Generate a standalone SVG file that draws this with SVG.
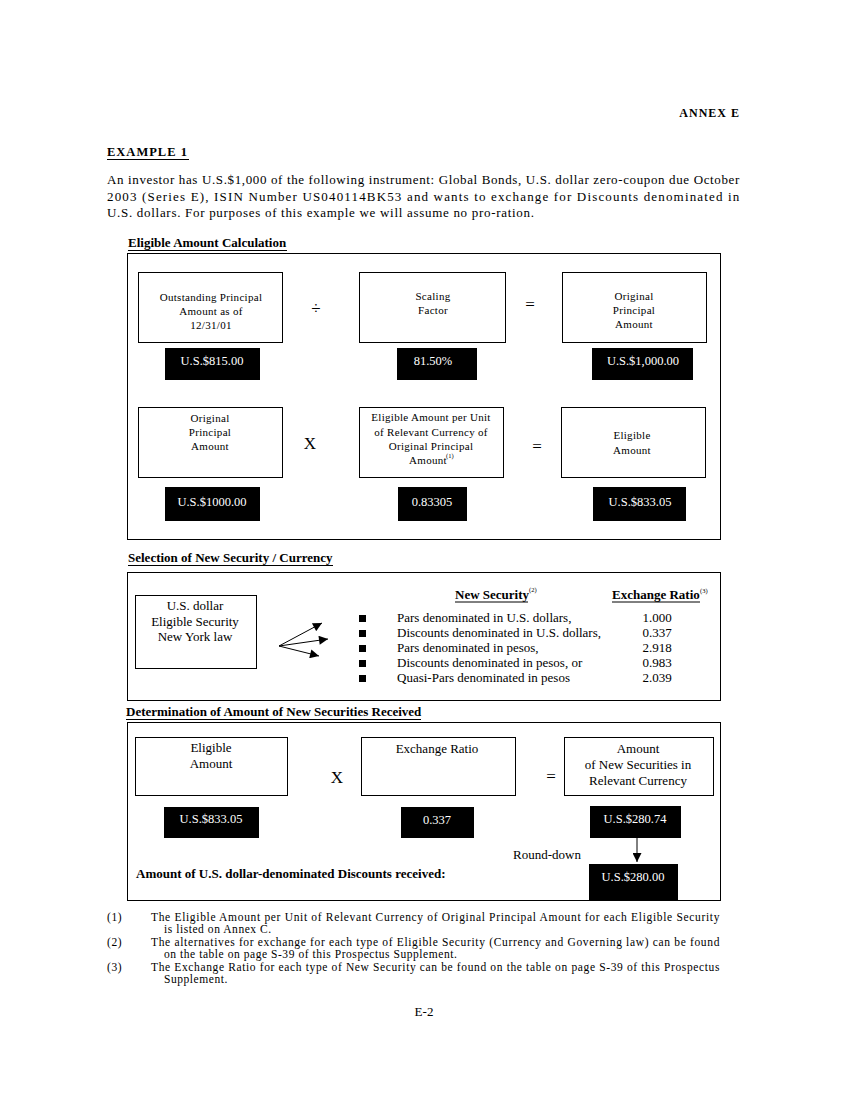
<svg xmlns="http://www.w3.org/2000/svg" width="850" height="1100" viewBox="0 0 850 1100">
<style>
text{font-family:"Liberation Serif","Times New Roman",serif;fill:#000}
.b{font-weight:bold}
.h{font-weight:bold;font-size:13px}
.p{font-size:13px;letter-spacing:0.7px}
.s{font-size:11px;letter-spacing:0.3px}
.c{text-anchor:middle}
.m{font-size:13px}
.w{fill:#fff;font-size:12.5px;text-anchor:middle}
.box{fill:#fff;stroke:#000;stroke-width:1}
.blk{fill:#000}
.ln{stroke:#000;stroke-width:1;fill:none}
.fn{font-size:11.5px;letter-spacing:0.55px}
.op{font-size:17px;text-anchor:middle}
.sup{font-size:6.5px}
</style>
<defs>
<marker id="ah" viewBox="0 0 10 10" refX="10" refY="5" markerWidth="10" markerHeight="9" markerUnits="userSpaceOnUse" orient="auto">
<path d="M0,0 L10,5 L0,10 z" fill="#000"/>
</marker>
</defs>
<rect width="850" height="1100" fill="#fff"/>

<g id="header">
<text x="740" y="117" class="b" font-size="12" text-anchor="end" letter-spacing="1">ANNEX E</text>
<text x="107" y="156" class="b" font-size="12.5" letter-spacing="1">EXAMPLE 1</text>
<line x1="107" y1="159.5" x2="189" y2="159.5" class="ln"/>
<text x="107" y="184" class="p" textLength="633" lengthAdjust="spacing">An investor has U.S.$1,000 of the following instrument: Global Bonds, U.S. dollar zero-coupon due October</text>
<text x="107" y="201" class="p" textLength="633" lengthAdjust="spacing">2003 (Series E), ISIN Number US040114BK53 and wants to exchange for Discounts denominated in</text>
<text x="107" y="217" class="p">U.S. dollars. For purposes of this example we will assume no pro-ration.</text>
</g>

<g id="section1">
<text x="128" y="247" class="h">Eligible Amount Calculation</text>
<line x1="128" y1="250.5" x2="287" y2="250.5" class="ln"/>
<rect x="127.5" y="253.5" width="593" height="286" class="box"/>
</g>

<g id="n_outstanding">
<rect x="138.5" y="272.5" width="144" height="70" class="box"/>
<text x="211" y="301" class="s c">Outstanding Principal</text>
<text x="211" y="315" class="s c">Amount as of</text>
<text x="211" y="329" class="s c">12/31/01</text>
</g>
<g id="op_div"><text x="316" y="314" class="op" font-size="24">÷</text></g>
<g id="n_scaling">
<rect x="359.5" y="272.5" width="146" height="70" class="box"/>
<text x="433" y="300" class="s c">Scaling</text>
<text x="433" y="314" class="s c">Factor</text>
</g>
<g id="op_eq1"><text x="530" y="310" class="op">=</text></g>
<g id="n_original1">
<rect x="562.5" y="272.5" width="144" height="70" class="box"/>
<text x="634" y="300" class="s c">Original</text>
<text x="634" y="314" class="s c">Principal</text>
<text x="634" y="328" class="s c">Amount</text>
</g>
<g id="v_815"><rect x="165" y="348" width="95" height="32" class="blk"/><text x="212" y="365" class="w">U.S.$815.00</text></g>
<g id="v_8150"><rect x="397" y="348" width="80" height="32" class="blk"/><text x="433" y="365" class="w">81.50%</text></g>
<g id="v_1000"><rect x="592" y="348" width="101" height="32" class="blk"/><text x="643" y="365" class="w">U.S.$1,000.00</text></g>

<g id="n_original2">
<rect x="138.5" y="407.5" width="144" height="70" class="box"/>
<text x="210" y="422" class="s c">Original</text>
<text x="210" y="436" class="s c">Principal</text>
<text x="210" y="450" class="s c">Amount</text>
</g>
<g id="op_x1"><text x="310" y="449" class="op" font-size="15">X</text></g>
<g id="n_eligper">
<rect x="359.5" y="407.5" width="144" height="70" class="box"/>
<text x="431" y="421" class="s c">Eligible Amount per Unit</text>
<text x="431" y="436" class="s c">of Relevant Currency of</text>
<text x="431" y="450" class="s c">Original Principal</text>
<text x="428" y="464" class="s c">Amount</text>
<text x="446" y="458" class="sup">(1)</text>
</g>
<g id="op_eq2"><text x="537" y="452" class="op">=</text></g>
<g id="n_eligible1">
<rect x="561.5" y="407.5" width="144" height="70" class="box"/>
<text x="632" y="439" class="s c">Eligible</text>
<text x="632" y="454" class="s c">Amount</text>
</g>
<g id="v_1000b"><rect x="165" y="487" width="95" height="34" class="blk"/><text x="212" y="506" class="w">U.S.$1000.00</text></g>
<g id="v_83305"><rect x="398" y="487" width="69" height="34" class="blk"/><text x="432" y="506" class="w">0.83305</text></g>
<g id="v_83305b"><rect x="593" y="487" width="93" height="34" class="blk"/><text x="640" y="506" class="w">U.S.$833.05</text></g>

<g id="section2">
<text x="128" y="562" class="h">Selection of New Security / Currency</text>
<line x1="128" y1="565.5" x2="333" y2="565.5" class="ln"/>
<rect x="127.5" y="572.5" width="593" height="128" class="box"/>
</g>
<g id="n_usdollar">
<rect x="135.5" y="595.5" width="121" height="73" class="box"/>
<text x="195" y="610" class="m c">U.S. dollar</text>
<text x="195" y="626" class="m c">Eligible Security</text>
<text x="195" y="641" class="m c">New York law</text>
</g>
<g id="n_list">
<text x="455" y="599" class="h">New Security</text>
<line x1="455" y1="602" x2="528" y2="602" class="ln"/>
<text x="529" y="592" class="sup">(2)</text>
<text x="612" y="599" class="h">Exchange Ratio</text>
<line x1="612" y1="602" x2="700" y2="602" class="ln"/>
<text x="700" y="593" class="sup">(3)</text>
<rect x="359" y="615" width="7" height="7" class="blk"/>
<rect x="359" y="630" width="7" height="7" class="blk"/>
<rect x="359" y="645" width="7" height="7" class="blk"/>
<rect x="359" y="660" width="7" height="7" class="blk"/>
<rect x="359" y="675" width="7" height="7" class="blk"/>
<text x="397" y="622" class="m">Pars denominated in U.S. dollars,</text>
<text x="397" y="637" class="m">Discounts denominated in U.S. dollars,</text>
<text x="397" y="652" class="m">Pars denominated in pesos,</text>
<text x="397" y="667" class="m">Discounts denominated in pesos, or</text>
<text x="397" y="682" class="m">Quasi-Pars denominated in pesos</text>
<text x="657" y="622" class="m c">1.000</text>
<text x="657" y="637" class="m c">0.337</text>
<text x="657" y="652" class="m c">2.918</text>
<text x="657" y="667" class="m c">0.983</text>
<text x="657" y="682" class="m c">2.039</text>
</g>

<g id="section3">
<text x="126" y="716" class="h">Determination of Amount of New Securities Received</text>
<line x1="126" y1="719.5" x2="421" y2="719.5" class="ln"/>
<rect x="127.5" y="722.5" width="593" height="178" class="box"/>
</g>
<g id="n_eligible2">
<rect x="135.5" y="737.5" width="152" height="58" class="box"/>
<text x="211" y="752" class="m c">Eligible</text>
<text x="211" y="768" class="m c">Amount</text>
</g>
<g id="op_x2"><text x="337" y="783" class="op" font-size="15">X</text></g>
<g id="n_exratio">
<rect x="361.5" y="737.5" width="154" height="58" class="box"/>
<text x="437" y="753" class="m c">Exchange Ratio</text>
</g>
<g id="op_eq3"><text x="551" y="782" class="op">=</text></g>
<g id="n_amountnew">
<rect x="564.5" y="737.5" width="149" height="58" class="box"/>
<text x="638" y="753" class="m c">Amount</text>
<text x="638" y="769" class="m c">of New Securities in</text>
<text x="638" y="785" class="m c">Relevant Currency</text>
</g>
<g id="v_83305c"><rect x="164" y="807" width="95" height="31" class="blk"/><text x="211" y="823" class="w">U.S.$833.05</text></g>
<g id="v_0337"><rect x="401" y="807" width="73" height="31" class="blk"/><text x="437" y="824" class="w">0.337</text></g>
<g id="v_28074"><rect x="590" y="806" width="91" height="32" class="blk"/><text x="635" y="823" class="w">U.S.$280.74</text></g>
<g id="v_28000"><rect x="589" y="864" width="89" height="36" class="blk"/><text x="633" y="881" class="w">U.S.$280.00</text></g>
<g id="n_labels">
<text x="513" y="859" class="m">Round-down</text>
<text x="136" y="878" class="h">Amount of U.S. dollar-denominated Discounts received:</text>
</g>

<g id="connectors">
<line x1="279" y1="646" x2="322" y2="623" class="ln" marker-end="url(#ah)"/>
<line x1="279" y1="646" x2="328" y2="639" class="ln" marker-end="url(#ah)"/>
<line x1="279" y1="646" x2="319" y2="656" class="ln" marker-end="url(#ah)"/>
<line x1="637" y1="838" x2="637" y2="862" class="ln" marker-end="url(#ah)"/>
</g>

<g id="footnotes">
<text x="107" y="921" class="fn">(1)</text>
<text x="151" y="921" class="fn" textLength="569" lengthAdjust="spacing">The Eligible Amount per Unit of Relevant Currency of Original Principal Amount for each Eligible Security</text>
<text x="164" y="933" class="fn">is listed on Annex C.</text>
<text x="107" y="946" class="fn">(2)</text>
<text x="151" y="946" class="fn" textLength="569" lengthAdjust="spacing">The alternatives for exchange for each type of Eligible Security (Currency and Governing law) can be found</text>
<text x="164" y="958" class="fn">on the table on page S-39 of this Prospectus Supplement.</text>
<text x="107" y="971" class="fn">(3)</text>
<text x="151" y="971" class="fn" textLength="569" lengthAdjust="spacing">The Exchange Ratio for each type of New Security can be found on the table on page S-39 of this Prospectus</text>
<text x="164" y="983" class="fn">Supplement.</text>
<text x="424" y="1016" class="c" font-size="13">E-2</text>
</g>
</svg>
